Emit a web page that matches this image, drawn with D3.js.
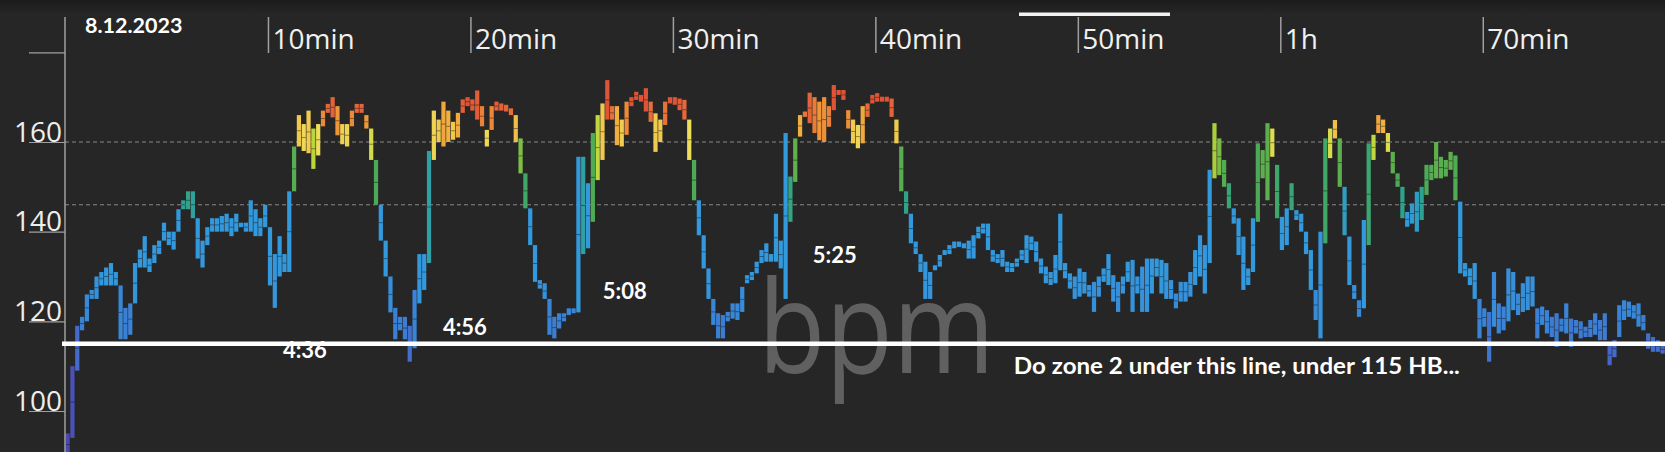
<!DOCTYPE html>
<html><head><meta charset="utf-8">
<script src="https://cdn.jsdelivr.net/npm/d3@7"></script>
<style>html,body{margin:0;padding:0;background:#262626;overflow:hidden}</style>
</head><body>
<svg id="c" width="1665" height="452"></svg>
<script>
const dateLabel = "8.12.2023";
const xTickMinutes = [10, 20, 30, 40, 50, 60, 70];
const xTickLabels = ["10min", "20min", "30min", "40min", "50min", "1h", "70min"];
const yTickValues = [100, 120, 140, 160, 180];
const yTickLabels = ["100", "120", "140", "160", ""];
const zoneLines = [146, 160];
const zone2Limit = 115;
const sampleSeconds = 14.28;
const lapLabels = ["4:36", "4:56", "5:08", "5:25"];
const lapMinute = [10.74, 18.64, 26.54, 36.91];
const lapBpm = [111.8, 116.9, 125.0, 133.0];
const noteText = "Do zone 2 under this line, under 115 HB...";

const hrMin = [
 90,94,109,118,120,125,125,128,128,128,
 128,116,116,117,124,132,132,131,133,135,
 138,137,136,140,145,145,143,134,132,137,
 140,140,140,140,139,140,141,140,140,139,
 139,141,128,123,130,131,131,149,159,158,
 157.5,154,157,163.5,166.5,165.5,161.5,159.5,159,163.5,
 166.5,166.5,163,156,146,138,130,122,116,118,
 116,111,114,124,127,133,156,160,159,160,
 160.5,161,166.5,168,167,165,
 163.5,159,162.7,167,167,166.8,166,160,153,145.2,
 137,128.8,127.3,125,117,116.2,118.4,120,121.4,121.8,
 122,135,136.3,142.2,151.5,156,165,165,159.3,159,
 161.6,168,169.4,169,166.8,164.5,157.8,160,163.8,168.6,
 168.3,167.1,165,156,147,139.2,131.8,125,119.2,116.2,
 116.2,120,120.6,120.3,122.1,128.5,129.2,130.7,133,133.3,
 133.3,133.3,131.8,125,142.2,151.1,161.2,165.6,164.2,162,
 160.4,160,163.4,167.1,170.5,169.4,163,159.7,158.6,159.7,
 165.6,168.6,169,169,169,165.6,159.7,
 149,144,137.4,135,131,125,125,131.4,132.2,134.8,
 135,136.3,136.6,136.3,134,134,138.5,139.6,135.9,133.3,
 133,132.2,131,131,132.2,133.7,133,135.9,133.3,130.7,
 128.5,128.1,128.5,131.4,129.6,127.3,125,125.5,126.2,125.5,
 122.1,125.5,128.8,128.1,124.4,122.1,126.2,128.8,122.1,126.2,
 122.1,122.1,126.2,130,126.2,125,125,122.9,124.4,124.4,
 125.5,128.1,130,126.2,133,151.9,152.6,150,145.2,141.8,
 134.8,127,128.1,131,142.2,151.9,147,156.7,143,135.9,
 137,144.8,142.6,140,135,127,120.3,
 116.2,137.4,156.4,160.8,150,139.2,128.1,125,121,122.9,
 137,156,162,162,157.8,153,150,143,141.1,141.8,
 140,142.6,148.2,151.5,151.9,151.9,152.3,153.8,147,130.7,
 130,128.1,125,116.2,118.8,111,118.8,117.3,118,120,
 122.5,121.4,122.1,122.5,123.3,116.2,119.2,117.3,116.5,114.3,
 117.7,117.3,114.3,117.3,116.2,116.5,116.5,117,115.8,115.8,
 110.2,112,116.5,120.3,121,120.6,118.8,118,113.9,113.2,
 113.2,112.8
];
const hrMax = [
 95,110,119,121,126,127,130,131,132,133,
 131,128,123,124,133,136,139,134,137,138,
 142,140,140,145,147,149,149,143,138,141,
 143,143,143.5,144,143,144,142,142,147,145,
 143,146,141,135,139,135,149,159,166,164,
 167,163,164,167,168.5,170,168,164,164,167,
 168.5,168.5,166,163,156,146,138,130,123,121,
 121,119,127,135,135,158,167,165,169,167,
 164.5,166.5,169.5,170,169.5,171.5,
 168,162.7,168,169,168.6,168.3,167.5,166,160.8,153,
 145.2,137,129.2,128.5,125,121,121.8,121.8,122.9,122.9,
 156.7,156.7,150.8,162,166,168.6,173.8,168,168,165,
 169,170,171.2,170.5,172,169,166.4,165,169,170,
 170,169.7,169.4,165,156,147,139.2,131.8,125,121.8,
 121.4,122.1,124,124,127.7,130.3,131,133.3,135.9,137.4,
 135,144,138,162,152.3,160.8,166,166.8,171,170,
 169,170,168,172.7,171.6,171.6,167.1,165,163.8,168,
 168.6,170.5,170.9,170.1,170.1,169.7,165,
 159,149,144,137.8,135,133.3,131,132.5,134.8,135.9,
 137,137.8,137.8,137.4,138,139.2,141.1,141.8,141.8,135.9,
 135,135.9,133.3,133,134,135.9,139.2,138.9,137.8,134,
 132.2,131,134.8,144,133,130.7,130,131.8,131,128.1,
 128.8,130,131.8,135,130.3,128.8,130,133.3,133.7,130,
 132.2,134,134,134,133.7,133,129.2,126.2,128.8,128.8,
 131,135.9,139.2,137,153.8,164.2,160.8,156,150.8,145.2,
 143,138.9,131.8,143,159.7,158.2,164.2,163,154.9,143.3,
 145.2,150.8,144.8,144,140,135.9,127,
 140,160.8,163,164.9,160.8,150,138.9,128.1,124.7,142.6,
 159.7,161.6,166,165,162,157.8,153,150,144.4,146.3,
 148.9,150,154.9,154.9,160,156.7,156,157.8,157,146.7,
 133,131.8,133,125,122.9,122.1,131,124,123.3,131.8,
 131,126.2,128.5,130,130,122.9,123.3,122.5,121,121.8,
 120.6,124,120.6,120.3,120,118.8,120.3,121.8,120.3,121.8,
 114.7,115.8,123.6,124.7,124.4,123.6,124,121.4,117.3,116.5,
 115.8,114.7
];

const W = 1665, H = 452;
const svg = d3.select("#c");
const x = d3.scaleLinear().domain([0, 79]).range([65.5, 1665]);
const y = d3.scaleLinear().domain([100, 160]).range([411, 142]);
const color = d3.scaleLinear()
  .domain([95, 110, 120, 130, 143.5, 146.5, 150, 156, 158.5, 160.5, 162.5, 164.5, 166.5, 169])
  .range(['#4b48b0','#4a5cc4','#3a82d6','#3498dc','#3399dd','#2ea38c','#48a85a','#5fb04c','#b9d63a','#eedd58','#f0c84c','#f09a36','#e8703a','#df5437'])
  .clamp(true);

// background
const defs = svg.append("defs");
const lg = defs.append("linearGradient").attr("id","topg").attr("x1",0).attr("x2",0).attr("y1",0).attr("y2",1);
lg.append("stop").attr("offset","0%").attr("stop-color","#1b1b1b");
lg.append("stop").attr("offset","100%").attr("stop-color","#262626");
svg.append("rect").attr("width",W).attr("height",H).attr("fill","#262626");
svg.append("rect").attr("width",W).attr("height",14).attr("fill","url(#topg)");

// watermark
svg.append("text").attr("x", x(34.2)).attr("y", y(108.5))
  .attr("font-family","'Open Sans', sans-serif").attr("font-weight",400).attr("font-size",128)
  .attr("fill","#606060").attr("textLength",237).attr("lengthAdjust","spacingAndGlyphs").text("bpm");

// zone grid lines
svg.append("g").selectAll("line").data(zoneLines).join("line")
  .attr("x1", 65).attr("x2", W).attr("y1", d => y(d)).attr("y2", d => y(d))
  .attr("stroke","#9a9a9a").attr("stroke-width",1).attr("stroke-dasharray","4,3").attr("opacity",0.85);

// bars
const step = sampleSeconds / 60;
const data = hrMin.map((lo, i) => ({t: i * step, lo, hi: hrMax[i]}));
const bw = x(step) - x(0) - 0.6;
const bars = svg.append("g");
bars.selectAll("rect").data(data).join("rect")
  .attr("x", d => x(d.t)).attr("width", bw)
  .attr("y", d => y(d.hi))
  .attr("height", d => Math.max(y(d.lo) - y(d.hi), 3))
  .attr("fill", d => color((d.lo + d.hi) / 2));
bars.selectAll("line").data(data.filter(d => y(d.lo) - y(d.hi) > 8)).join("line")
  .attr("x1", d => x(d.t)).attr("x2", d => x(d.t) + bw)
  .attr("y1", d => y((d.lo + d.hi) / 2)).attr("y2", d => y((d.lo + d.hi) / 2))
  .attr("stroke","rgba(0,0,0,0.4)").attr("stroke-width",1);

// y axis
const ya = svg.append("g").attr("transform","translate(65,0)")
  .call(d3.axisLeft(y).tickValues(yTickValues).tickSize(36).tickFormat((d,i) => yTickLabels[i]));
ya.select(".domain").remove();
ya.selectAll(".tick line").attr("stroke","#a0a0a0").attr("stroke-width",1.2);
ya.selectAll(".tick text").attr("x",-3).attr("dy","0").attr("y",-1)
  .attr("text-anchor","end").attr("fill","#eeeeee")
  .attr("font-family","'Open Sans', sans-serif").attr("font-size",28);
svg.append("line").attr("x1",65).attr("x2",65).attr("y1",17).attr("y2",H)
  .attr("stroke","#a0a0a0").attr("stroke-width",1.5);

// x axis (top)
const xa = svg.append("g").attr("transform","translate(0,53)")
  .call(d3.axisTop(x).tickValues(xTickMinutes).tickSize(36).tickFormat((d,i) => xTickLabels[i]));
xa.select(".domain").remove();
xa.selectAll(".tick line").attr("stroke","#a0a0a0").attr("stroke-width",1.5);
xa.selectAll(".tick text").attr("x",4).attr("y",-4).attr("dy","0")
  .attr("text-anchor","start").attr("fill","#f0f0f0")
  .attr("font-family","'Open Sans', sans-serif").attr("font-size",28);

// scroll indicator
svg.append("rect").attr("x",1019).attr("y",12.5).attr("width",151).attr("height",3.5).attr("fill","#f2f2f2");

// date
svg.append("text").attr("x",85).attr("y",33).attr("fill","#ffffff")
  .attr("font-family","Lato, sans-serif").attr("font-weight",700).attr("font-size",21.5).text(dateLabel);

// annotations
svg.append("g").selectAll("text").data(lapLabels).join("text")
  .attr("x", (d,i) => x(lapMinute[i])).attr("y", (d,i) => y(lapBpm[i]))
  .attr("fill","#ffffff").attr("font-family","Lato, sans-serif").attr("font-weight",700)
  .attr("font-size",22).text(d => d);
svg.append("text").attr("x", x(46.84)).attr("y", y(108.25)).attr("fill","#ffffff")
  .attr("font-family","Lato, sans-serif").attr("font-weight",700).attr("font-size",23)
  .attr("textLength",446).attr("lengthAdjust","spacingAndGlyphs").text(noteText);

// zone 2 limit line
svg.append("line").attr("x1",62).attr("x2",W).attr("y1",y(zone2Limit)).attr("y2",y(zone2Limit))
  .attr("stroke","#ffffff").attr("stroke-width",4.5);
</script>
</body></html>
